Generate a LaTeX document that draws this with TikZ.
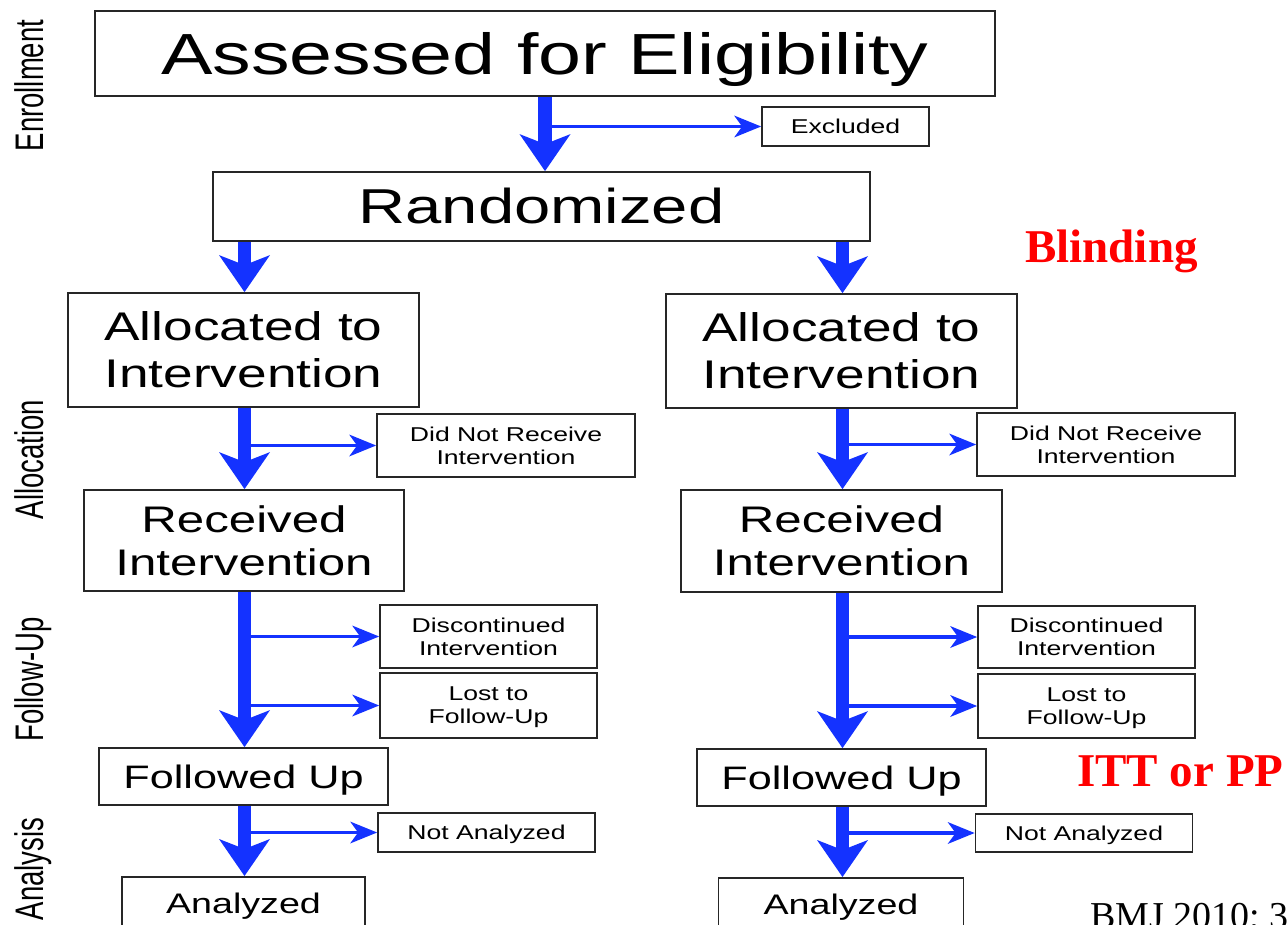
\documentclass[tikz,border=0pt]{standalone}
\usepackage{fontspec}
\usepackage{graphicx}
\usetikzlibrary{arrows.meta}
\newfontfamily\boxfont[FakeStretch=1.33]{Liberation Sans}
\newfontfamily\sidefont{Liberation Sans}
\newfontfamily\redfont{Liberation Serif}
\newcommand\setfs[2]{\fontsize{#1pt}{#2pt}\selectfont}
\definecolor{flowblue}{RGB}{20,50,255}
\definecolor{noteRed}{RGB}{255,0,0}

\tikzset{
  box/.style={draw=black!85, line width=1.8pt, fill=white, inner sep=0pt, align=center},
  capbox/.style={text height=#1, text depth=0pt},
  mainflow/.style={draw=flowblue, line width=13.5pt,
    -{Stealth[length=37pt,width=51pt,inset=10pt,line width=0pt]}},
  sideflow/.style={draw=flowblue, line width=3.8pt,
    -{Stealth[length=27pt,width=22pt,inset=8pt,line width=0pt]}},
  stage/.style={rotate=90, anchor=base, inner sep=0pt, font=\sidefont\setfs{27.5}{30}},
  note/.style={anchor=base west, inner sep=0pt, text=noteRed, font=\redfont\bfseries\setfs{47}{50}},
}

\begin{document}
\begin{tikzpicture}[x=1pt,y=-1pt]
  \useasboundingbox (0,0) rectangle (1287,925);
  \fill[white] (0,0) rectangle (1287,925);
  \clip (0,0) rectangle (1287,925);

  % column axes of the flow
  \coordinate (colT) at (545,0);
  \coordinate (colL) at (244.5,0);
  \coordinate (colR) at (842.5,0);

  % enrollment
  \node[box, capbox=41.5pt, minimum width=900pt, minimum height=85pt,
        font=\boxfont\setfs{58}{64}] (assess) at (545,53.5) {Assessed for Eligibility};
  \node[box, capbox=14.3pt, minimum width=167pt, minimum height=39pt,
        font=\boxfont\setfs{20}{23}] (excl) at (845.5,126.5) {Excluded};
  \node[box, capbox=35pt, minimum width=657pt, minimum height=69pt,
        font=\boxfont\setfs{49}{55}] (rand) at (541.5,206.5) {Randomized};

  % allocation
  \node[box, minimum width=351pt, minimum height=114pt, font=\boxfont\setfs{40}{47}]
        (allocL) at (243.5,350) {Allocated to\\Intervention};
  \node[box, minimum width=351pt, minimum height=114pt, font=\boxfont\setfs{40}{47}]
        (allocR) at (841.5,351) {Allocated to\\Intervention};
  \node[box, minimum width=258pt, minimum height=63pt, font=\boxfont\setfs{20}{23}]
        (dnrL) at (506,445.5) {Did Not Receive\\Intervention};
  \node[box, minimum width=258pt, minimum height=63pt, font=\boxfont\setfs{20}{23}]
        (dnrR) at (1106,444.5) {Did Not Receive\\Intervention};
  \node[box, minimum width=320pt, minimum height=101pt, font=\boxfont\setfs{37}{43}]
        (recL) at (244,540.5) {Received\\Intervention};
  \node[box, minimum width=321pt, minimum height=102pt, font=\boxfont\setfs{37}{43}]
        (recR) at (841.5,541) {Received\\Intervention};

  % follow-up
  \node[box, minimum width=217pt, minimum height=63pt, font=\boxfont\setfs{20}{23}]
        (discL) at (488.5,636.5) {Discontinued\\Intervention};
  \node[box, minimum width=217pt, minimum height=65pt, font=\boxfont\setfs{20}{23}]
        (lostL) at (488.5,705.5) {Lost to\\\raisebox{0pt}[\height][0pt]{Follow-Up}};
  \node[box, minimum width=217pt, minimum height=62pt, font=\boxfont\setfs{20}{23}]
        (discR) at (1086.5,637) {Discontinued\\Intervention};
  \node[box, minimum width=217pt, minimum height=64pt, font=\boxfont\setfs{20}{23}]
        (lostR) at (1086.5,706) {Lost to\\\raisebox{0pt}[\height][0pt]{Follow-Up}};
  \node[box, capbox=23.3pt, minimum width=289pt, minimum height=57pt,
        font=\boxfont\setfs{32.5}{36}] (folL) at (243.5,776.5) {Followed Up};
  \node[box, capbox=23.3pt, minimum width=289pt, minimum height=57pt,
        font=\boxfont\setfs{32.5}{36}] (folR) at (841.5,777.5) {Followed Up};

  % analysis
  \node[box, capbox=14.3pt, minimum width=217pt, minimum height=39pt,
        font=\boxfont\setfs{20}{23}] (naL) at (486.5,832.5) {Not Analyzed};
  \node[box, capbox=14.3pt, minimum width=217pt, minimum height=38pt,
        font=\boxfont\setfs{20}{23}] (naR) at (1084,833) {Not Analyzed};
  \node[box, anchor=north, text height=20.3pt, text depth=40pt, inner ysep=16pt,
        minimum width=243pt, font=\boxfont\setfs{28.3}{32}] (anaL) at (243.5,876) {Analyzed};
  \node[box, anchor=north, text height=20.3pt, text depth=40pt, inner ysep=16pt,
        minimum width=245pt, font=\boxfont\setfs{28.3}{32}] (anaR) at (841,877) {Analyzed};

  % side exits
  \draw[sideflow] (colT |- excl.west) -- (excl.west);
  \draw[sideflow] (colL |- dnrL.west) -- (dnrL.west);
  \draw[sideflow] (colR |- dnrR.west) -- (dnrR.west);
  \draw[sideflow] (colL |- discL.west) -- (discL.west);
  \draw[sideflow] (colL |- lostL.west) -- (lostL.west);
  \draw[sideflow] (colR |- discR.west) -- (discR.west);
  \draw[sideflow] (colR |- lostR.west) -- (lostR.west);
  \draw[sideflow] (colL |- naL.west) -- (naL.west);
  \draw[sideflow] (colR |- naR.west) -- (naR.west);

  % main flow
  \draw[mainflow] (colT |- assess.south) -- (colT |- rand.north);
  \draw[mainflow] (colL |- rand.south) -- (colL |- allocL.north);
  \draw[mainflow] (colR |- rand.south) -- (colR |- allocR.north);
  \draw[mainflow] (colL |- allocL.south) -- (colL |- recL.north);
  \draw[mainflow] (colR |- allocR.south) -- (colR |- recR.north);
  \draw[mainflow] (colL |- recL.south) -- (colL |- folL.north);
  \draw[mainflow] (colR |- recR.south) -- (colR |- folR.north);
  \draw[mainflow] (colL |- folL.south) -- (colL |- anaL.north);
  \draw[mainflow] (colR |- folR.south) -- (colR |- anaR.north);

  % stage labels
  \node[stage] (stEnroll) at (43,85.5) {\scalebox{1}[1.45]{Enrollment}};
  \node[stage] (stAlloc) at (43,459.5) {\scalebox{1}[1.45]{Allocation}};
  \node[stage] (stFollow) at (43,679.5) {\scalebox{1}[1.45]{Follow-Up}};
  \node[stage] (stAnalysis) at (43,869) {\scalebox{1}[1.45]{Analysis}};

  % annotations
  \node[note] (blind) at (1025,263) {Blinding};
  \node[note] (itt) at (1077,786) {ITT or PP};
  \node[anchor=base west, inner sep=0pt, font=\redfont\setfs{38}{40}] (cite) at (1090,928) {BMJ 2010; 3};
\end{tikzpicture}
\end{document}
